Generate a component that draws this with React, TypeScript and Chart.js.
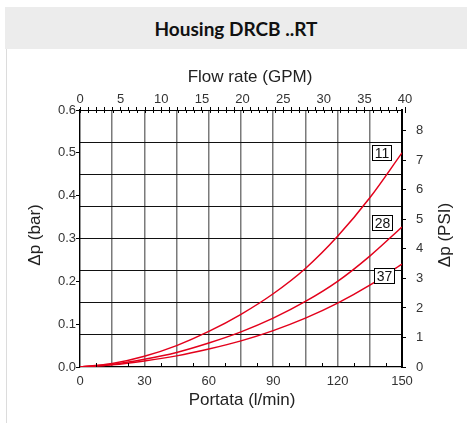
import React, { useEffect, useRef } from 'react';
import { Chart, registerables } from 'chart.js';

Chart.register(...registerables);

// ---- data ----
const flowLmin = [0, 15, 30, 45, 60, 75, 90, 105, 120, 135, 150];
const dp11 = [0, 0.008, 0.025, 0.050, 0.083, 0.123, 0.171, 0.230, 0.305, 0.395, 0.500];
const dp28 = [0, 0.006, 0.018, 0.034, 0.056, 0.082, 0.114, 0.153, 0.200, 0.259, 0.327];
const dp37 = [0, 0.005, 0.014, 0.026, 0.042, 0.061, 0.085, 0.114, 0.149, 0.191, 0.240];
const seriesNames = ['11', '28', '37'];
const labelFlow = [140.5, 140.5, 141.5];
const labelDp = [0.500, 0.338, 0.213];

const flowTickLabels = [0, 30, 60, 90, 120, 150];
const barTickValues = [0, 0.1, 0.2, 0.3, 0.4, 0.5, 0.6];
const barGridValues = [0.075, 0.15, 0.225, 0.3, 0.375, 0.45, 0.525];
const gpmTickLabels = [0, 5, 10, 15, 20, 25, 30, 35, 40];
const psiTickLabels = [0, 1, 2, 3, 4, 5, 6, 7, 8];

const LMIN_PER_GPM = 3.785411784;
const PSI_PER_BAR = 14.5038;

const FONT = '"Liberation Sans", Arial, sans-serif';
const TEXT = '#333';

const decorPlugin = {
  id: 'decor',
  afterDatasetsDraw(chart: any) {
    const { ctx, chartArea } = chart;
    const { x, x2, y } = chart.scales;
    ctx.save();
    ctx.strokeStyle = '#000';
    ctx.lineWidth = 1;
    const line = (a: number, b: number, c: number, d: number) => {
      ctx.beginPath();
      ctx.moveTo(a, b);
      ctx.lineTo(c, d);
      ctx.stroke();
    };
    x.ticks.forEach((t: any) => {
      if (t.value % 15 !== 0) {
        const px = Math.round(x.getPixelForValue(t.value)) + 0.5;
        line(px, chartArea.bottom, px, chartArea.bottom - 4);
      }
    });
    x2.ticks.forEach((t: any) => {
      const px = Math.round(x2.getPixelForValue(t.value)) + 0.5;
      line(px, chartArea.top, px, chartArea.top + 3);
    });
    // label boxes
    ctx.font = `14px ${FONT}`;
    seriesNames.forEach((name, i) => {
      const cx = x.getPixelForValue(labelFlow[i]);
      const cy = y.getPixelForValue(labelDp[i]);
      const w = Math.round(ctx.measureText(name).width + 4);
      const h = 15;
      const lx = Math.round(cx - w / 2) + 0.5;
      const ty = Math.round(cy - h / 2) + 0.5;
      ctx.fillStyle = '#fff';
      ctx.fillRect(lx, ty, w, h);
      ctx.strokeStyle = '#000';
      ctx.strokeRect(lx, ty, w, h);
      ctx.fillStyle = '#111';
      ctx.textAlign = 'center';
      ctx.textBaseline = 'middle';
      ctx.fillText(name, lx + w / 2, ty + h / 2 + 1);
    });
    ctx.restore();
  },
};

function App() {
  const ref = useRef<HTMLCanvasElement | null>(null);

  useEffect(() => {
    if (!ref.current) return;
    const mk = (arr: number[]) => flowLmin.map((q, i) => ({ x: q, y: arr[i] }));
    const ds = (arr: number[]) => ({
      data: mk(arr),
      borderColor: '#e3001b',
      borderWidth: 1.5,
      pointRadius: 0,
      fill: false,
      cubicInterpolationMode: 'monotone' as const,
      xAxisID: 'x',
      yAxisID: 'y',
    });
    const tickFont = { family: FONT, size: 13 };
    const chart = new Chart(ref.current, {
      type: 'line',
      data: { datasets: [ds(dp11), ds(dp28), ds(dp37)] },
      options: {
        animation: false,
        responsive: false,
        layout: { padding: 0 },
        plugins: { legend: { display: false }, tooltip: { enabled: false } },
        scales: {
          x: {
            type: 'linear',
            position: 'bottom',
            min: 0,
            max: 150,
            afterFit: (s: any) => { s.height = 56; },
            ticks: {
              stepSize: 7.5,
              autoSkip: false,
              maxRotation: 0,
              padding: 7,
              font: tickFont,
              color: TEXT,
              callback: (v: any) => (flowTickLabels.includes(Number(v)) ? String(v) : ''),
            },
            grid: {
              drawTicks: false,
              lineWidth: 1.5,
              color: (c: any) => (c.tick && c.tick.value % 15 === 0 ? '#7a7a7a' : 'rgba(0,0,0,0)'),
            },
            border: { display: true, color: '#000', width: 1.2 },
          },
          x2: {
            type: 'linear',
            position: 'top',
            min: 0,
            max: 150 / LMIN_PER_GPM,
            afterFit: (s: any) => { s.height = 60; },
            afterBuildTicks: (s: any) => {
              const t: any[] = [];
              for (let v = 0; v <= 40; v += 1) t.push({ value: v });
              s.ticks = t;
            },
            ticks: {
              autoSkip: false,
              maxRotation: 0,
              padding: 0,
              font: tickFont,
              color: TEXT,
              callback: (v: any) => (gpmTickLabels.includes(Number(v)) ? String(v) : ''),
            },
            grid: { drawOnChartArea: false, drawTicks: true, tickLength: 3, color: '#000' },
            border: { display: true, color: '#000', width: 1 },
          },
          y: {
            type: 'linear',
            position: 'left',
            min: 0,
            max: 0.6,
            afterFit: (s: any) => { s.width = 80; },
            afterBuildTicks: (s: any) => { s.ticks = barTickValues.map((v) => ({ value: v })); },
            ticks: {
              padding: 0,
              font: tickFont,
              color: TEXT,
              callback: (v: any) => Number(v).toFixed(1),
            },
            grid: { drawOnChartArea: false, drawTicks: true, tickLength: 4, color: '#000' },
            border: { display: true, color: '#000', width: 1.2 },
          },
          yGrid: {
            type: 'linear',
            position: 'left',
            min: 0,
            max: 0.6,
            afterFit: (s: any) => { s.width = 0; },
            afterBuildTicks: (s: any) => { s.ticks = barGridValues.map((v) => ({ value: v })); },
            ticks: { display: false },
            grid: { drawTicks: false, color: '#111', lineWidth: 1 },
            border: { display: false },
          },
          y2: {
            type: 'linear',
            position: 'right',
            min: 0,
            max: 0.6 * PSI_PER_BAR,
            afterFit: (s: any) => { s.width = 65; },
            afterBuildTicks: (s: any) => {
              const t: any[] = [];
              for (let v = 0; v <= 8.5; v += 0.5) t.push({ value: v });
              s.ticks = t;
            },
            ticks: {
              padding: 10,
              font: tickFont,
              color: TEXT,
              callback: (v: any) => (psiTickLabels.includes(Number(v)) ? String(v) : ''),
            },
            grid: { drawOnChartArea: false, drawTicks: true, tickLength: 4, color: '#000' },
            border: { display: true, color: '#000', width: 2 },
          },
        },
      },
      plugins: [decorPlugin],
    } as any);
    return () => chart.destroy();
  }, []);

  const axisTitle: React.CSSProperties = {
    position: 'absolute',
    width: 200,
    height: 20,
    lineHeight: '20px',
    textAlign: 'center',
    fontFamily: FONT,
    fontSize: 17,
    color: '#222',
    whiteSpace: 'nowrap',
  };

  return (
    <div style={{ position: 'fixed', left: 0, top: 0, width: 467, height: 423, background: '#fff', overflow: 'hidden' }}>
      <div
        style={{
          position: 'absolute',
          left: 5,
          top: 7,
          width: 462,
          height: 42,
          background: '#ececec',
          textAlign: 'center',
          lineHeight: '44px',
          fontFamily: 'Lato, "Open Sans", sans-serif',
          fontWeight: 700,
          fontSize: 19,
          color: '#111',
        }}
      >
        Housing DRCB ..RT
      </div>
      <div style={{ position: 'absolute', left: 6, top: 49, width: 1, height: 374, background: '#dcdcdc' }} />
      <canvas ref={ref} width={467} height={373} style={{ position: 'absolute', left: 0, top: 50, width: 467, height: 373 }} />
      <div style={{ ...axisTitle, left: 150, top: 67 }}>Flow rate (GPM)</div>
      <div style={{ ...axisTitle, left: 142, top: 390 }}>Portata (l/min)</div>
      <div style={{ ...axisTitle, left: 35 - 100, top: 235 - 10, transform: 'rotate(-90deg)' }}>Δp (bar)</div>
      <div style={{ ...axisTitle, left: 445 - 100, top: 235 - 10, transform: 'rotate(-90deg)' }}>Δp (PSI)</div>
    </div>
  );
}

export default App;
